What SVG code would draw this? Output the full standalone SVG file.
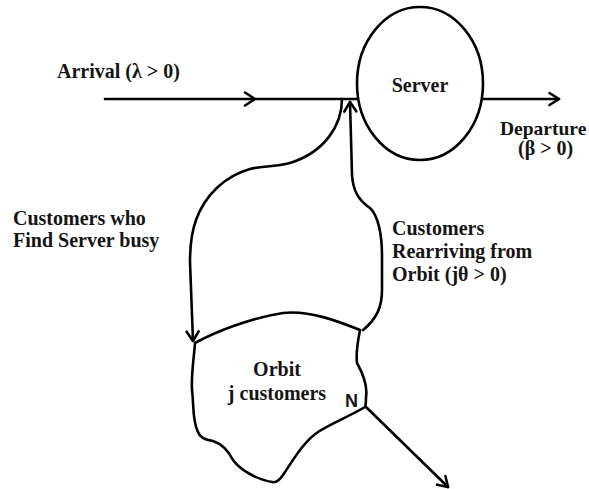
<svg xmlns="http://www.w3.org/2000/svg" width="589" height="489" viewBox="0 0 589 489">
<style>
.ln{fill:none;stroke:#000;stroke-width:2.6;stroke-linecap:round;stroke-linejoin:round}
.t{font-family:"Liberation Serif","Times New Roman",serif;font-weight:bold;font-size:20px;fill:#151515}
.n{font-family:"Liberation Sans",Arial,sans-serif;font-weight:bold;font-size:18px;fill:#151515}
</style>
<defs>
<marker id="arr" markerWidth="14" markerHeight="14" refX="11" refY="7" orient="auto" markerUnits="userSpaceOnUse" overflow="visible">
<path d="M1.5,1 L11,7 L1.5,13" fill="none" stroke="#000" stroke-width="2.6" stroke-linecap="round" stroke-linejoin="round"/>
</marker>
</defs>
<rect width="589" height="489" fill="#fff"/>
<g id="connectors">
<path id="arrival" class="ln" d="M105,99 L357,99"/>
<path class="ln" d="M245,92.5 L255,99 L245,105.5"/>
<path id="departure" class="ln" d="M482,99 L559,99" marker-end="url(#arr)"/>
<path id="to-orbit" class="ln" d="M342,99 C342,125 325,152 290,163 C275,167 262,166 250,169 C225,176 205,195 196,220 C191,234 190,250 190,262 L193,341" marker-end="url(#arr)"/>
<path id="rearrive" class="ln" d="M363,330 C378,318 382,305 382,290 L382,255 C382,235 378,215 370,208 C358,200 353,190 352,175 L350,102" marker-end="url(#arr)"/>
<path id="leave" class="ln" d="M366,407 L448,487" marker-end="url(#arr)"/>
</g>
<g id="server">
<ellipse class="ln" cx="420" cy="83.5" rx="63" ry="76.5"/>
<text class="t" x="420" y="92" text-anchor="middle">Server</text>
</g>
<g id="orbit">
<path class="ln" d="M195,343 C215,332 250,318 283,313 C310,310 340,322 360,330 C358,340 356,355 357,363 C362,372 368,385 366,397 C366,402 366,405 365,407 C350,416 330,424 318,432 C303,442 292,462 283,475 C279,481 276,483 272,482 C258,480 240,470 233,460 C228,450 222,444 213,441 C205,440 200,438 198,432 C192,420 194,405 192,390 C191,375 194,358 195,343 Z"/>
<text class="t" x="277" y="376" text-anchor="middle">Orbit</text>
<text class="t" x="277" y="400" text-anchor="middle">j customers</text>
<text class="n" x="345" y="407">N</text>
</g>
<g id="labels">
<text class="t" x="57" y="78">Arrival (λ &gt; 0)</text>
<text class="t" x="500" y="135" style="font-size:19.5px">Departure</text>
<text class="t" x="518" y="155">(β &gt; 0)</text>
<text class="t" x="13" y="225">Customers who</text>
<text class="t" x="13" y="247">Find Server busy</text>
<text class="t" x="392" y="235">Customers</text>
<text class="t" x="392" y="258">Rearriving from</text>
<text class="t" x="392" y="281">Orbit (jθ &gt; 0)</text>
</g>
</svg>
